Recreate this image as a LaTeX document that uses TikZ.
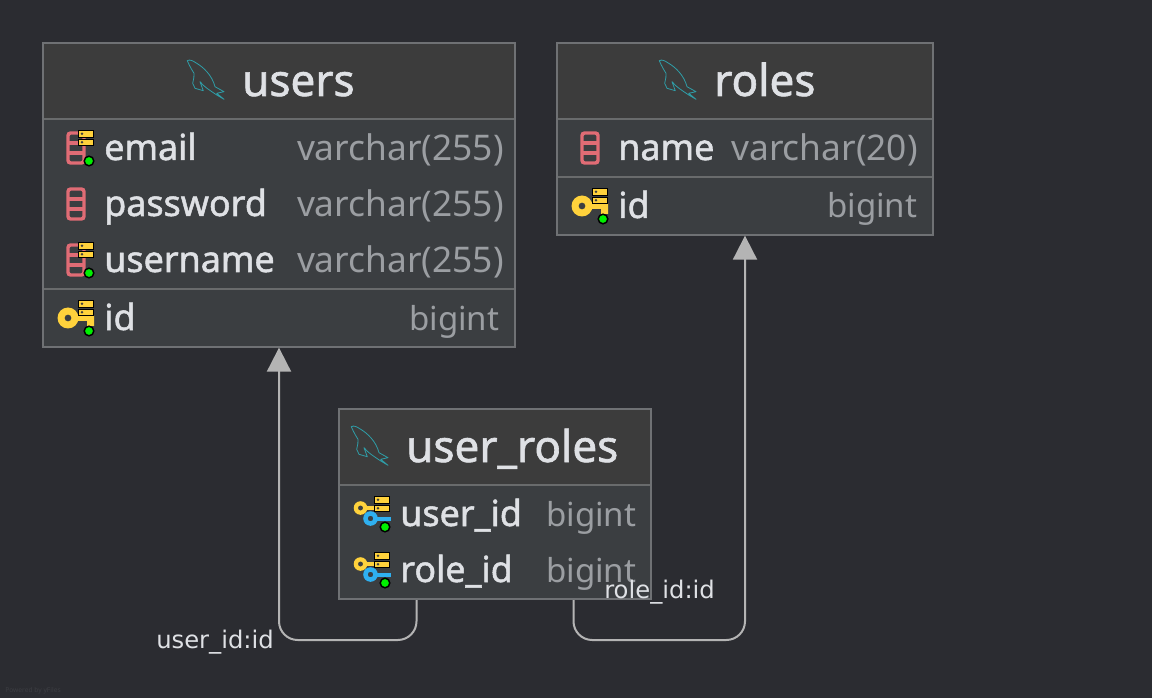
\documentclass[tikz,border=0pt]{standalone}
\usepackage{fontspec}
\setmainfont{Noto Sans}
\newfontfamily\namefont[FakeBold=1.4]{Noto Sans}
\newfontfamily\linkfont{DejaVu Sans}
\usetikzlibrary{arrows.meta,fit}

\definecolor{canvas}{HTML}{2B2C31}
\definecolor{headfill}{HTML}{3C3C3C}
\definecolor{bodyfill}{HTML}{3B3E41}
\definecolor{frame}{HTML}{6F7174}
\definecolor{sepline}{HTML}{696B6C}
\definecolor{textmain}{HTML}{DFE1E5}
\definecolor{texttype}{HTML}{9B9EA2}
\definecolor{linkline}{HTML}{B4B4B4}
\definecolor{colred}{HTML}{E06C75}
\definecolor{keyyellow}{HTML}{FFD23C}
\definecolor{keyblue}{HTML}{2FB0F0}
\definecolor{dotgreen}{HTML}{00F000}
\definecolor{dolphin}{HTML}{2F9EA8}

\tikzset{
    tablebox/.style={draw=frame,line width=1pt,fill=bodyfill,inner sep=0pt},
    headbox/.style={fill=headfill,inner sep=0pt},
    title/.style={anchor=base west,text=textmain,inner sep=0pt,font=\namefont\fontsize{33}{33}\selectfont},
    colname/.style={anchor=base west,text=textmain,inner sep=0pt,font=\namefont\fontsize{26.9}{26.9}\selectfont},
    coltype/.style={anchor=base east,text=texttype,inner sep=0pt,font=\fontsize{26.5}{26.5}\selectfont},
    biginttype/.style={coltype,font=\fontsize{24.8}{24.8}\selectfont},
    linklabel/.style={anchor=base west,text=textmain,inner sep=0pt,font=\linkfont\fontsize{18.2}{18.2}\selectfont},
    sep/.style={draw=sepline,line width=1.5pt},
    link/.style={draw=linkline,line width=1.5pt,rounded corners=14pt,-{Triangle[length=18pt,width=18pt,fill=linkline]}},
    dolphinicon/.pic={
        \draw[dolphin,line width=.6pt,line join=round]
            (0.3,0.7) .. controls (3,-1) and (6,1) .. (9.7,3.3)
            .. controls (16,7) and (25,15) .. (28,26.7)
            -- (37,31.7) -- (29.7,33.3) -- (37,39.3) -- (29,34.5)
            .. controls (24,31) and (17,27) .. (13,21.7)
            -- (16.3,30.7) -- (8,28.3) -- (5.7,23.3)
            .. controls (6.5,19) and (7.5,16) .. (7,13.3)
            .. controls (5,10) and (3,7) .. (0.3,0.7) -- cycle;
    },
    servericon/.pic={
        \draw[black,fill=keyyellow,line width=.7pt] (2.5,-17.5) rectangle (17.5,-11);
        \draw[black,fill=keyyellow,line width=.7pt] (2.5,-9) rectangle (17.5,-2.5);
        \fill[black!75] (6,-14.2) circle (1.4) (6,-5.8) circle (1.4);
    },
    greendot/.pic={
        \draw[black,fill=dotgreen,line width=1.1pt] (13,13) circle (4.8);
    },
    columnicon/.pic={
        \draw[colred,line width=2.6pt,rounded corners=2pt] (-8,-15) rectangle (8,15);
        \draw[colred,line width=2.6pt] (-8,-5) -- (8,-5) (-8,5) -- (8,5);
    },
    keyicon/.pic={
        \fill[keyyellow,even odd rule] (-8,0) circle (10.5) (-8,0) circle (3.5);
        \fill[keyyellow] (0,-2.5) rectangle (18,3) (11,0) rectangle (18,8);
    },
    fkicon/.pic={
        \fill[keyyellow,even odd rule] (-11.5,-6) circle (6.8) (-11.5,-6) circle (2.6);
        \fill[keyyellow] (-6,-8) rectangle (3,-4.5);
        \fill[keyblue,even odd rule] (-1.5,4.5) circle (7.3) (-1.5,4.5) circle (2.8);
        \fill[keyblue] (4,2.5) rectangle (18.5,6.5);
    },
}

\begin{document}
\begin{tikzpicture}[x=0.75pt,y=-0.75pt]
    \fill[canvas] (0,0) rectangle (1152,698);
    \useasboundingbox (0,0) rectangle (1152,698);

    % users
    \node(usersbox)[tablebox,fit={(43,43) (515,347)}] {};
    \node(usershead)[headbox,fit={(44,44) (514,118)}] {};
    \draw[sep] (44,119)--(514,119);
    \draw[sep] (44,289)--(514,289);
    \pic at (187,60) {dolphinicon};
    \node(userstitle)[title] at (242,96) {users};
    \pic at (76,148) {columnicon};
    \pic at (76,148) {servericon};
    \pic at (76,148) {greendot};
    \node(usersemail)[colname] at (104,160) {email};
    \node(usersemailt)[coltype] at (504,160.5) {varchar(255)};
    \pic at (76,204) {columnicon};
    \node(userspass)[colname] at (104,216) {password};
    \node(userspasst)[coltype] at (504,216.5) {varchar(255)};
    \pic at (76,260) {columnicon};
    \pic at (76,260) {servericon};
    \pic at (76,260) {greendot};
    \node(usersname)[colname] at (104,272) {username};
    \node(usersnamet)[coltype] at (504,272.5) {varchar(255)};
    \pic at (76,318) {keyicon};
    \pic at (76,318) {servericon};
    \pic at (76,318) {greendot};
    \node(usersid)[colname] at (104,330) {id};
    \node(usersidt)[biginttype] at (499.5,330) {bigint};

    % roles
    \node(rolesbox)[tablebox,fit={(557,43) (933,235)}] {};
    \node(roleshead)[headbox,fit={(558,44) (932,118)}] {};
    \draw[sep] (558,119)--(932,119);
    \draw[sep] (558,177)--(932,177);
    \pic at (659,60) {dolphinicon};
    \node(rolestitle)[title] at (714,96) {roles};
    \pic at (590,148) {columnicon};
    \node(rolesname)[colname] at (618,160) {name};
    \node(rolesnamet)[coltype] at (918,160.5) {varchar(20)};
    \pic at (590,206) {keyicon};
    \pic at (590,206) {servericon};
    \pic at (590,206) {greendot};
    \node(rolesid)[colname] at (618,218) {id};
    \node(rolesidt)[biginttype] at (917.5,218) {bigint};

    % user_roles
    \node(urbox)[tablebox,fit={(339,409) (651,599)}] {};
    \node(urhead)[headbox,fit={(340,410) (650,484)}] {};
    \draw[sep] (340,485)--(650,485);
    \pic at (351,426) {dolphinicon};
    \node(urtitle)[title] at (406,462) {user\_roles};
    \pic at (372,514) {fkicon};
    \pic at (372,514) {servericon};
    \pic at (372,514) {greendot};
    \node(uruser)[colname] at (400,526) {user\_id};
    \node(urusert)[biginttype] at (636.5,526) {bigint};
    \pic at (372,570) {fkicon};
    \pic at (372,570) {servericon};
    \pic at (372,570) {greendot};
    \node(urrole)[colname] at (400,582) {role\_id};
    \node(urrolet)[biginttype] at (636.5,582) {bigint};

    % links
    \coordinate(userfrom) at (416.5,600);
    \coordinate(rolefrom) at (573.5,600);
    \draw[link] (userfrom)--(416.5,640)--(usersbox.south |- 0,640)--(usersbox.south);
    \draw[link] (rolefrom)--(573.5,640)--(rolesbox.south |- 0,640)--(rolesbox.south);
    \node(userlink)[linklabel] at (156,648) {user\_id:id};
    \node(rolelink)[linklabel] at (604,598) {role\_id:id};

    \node(powered)[anchor=base west,inner sep=0pt,text=white!8!canvas,font=\fontsize{5}{5}\selectfont] at (5,692) {Powered by yFiles};
\end{tikzpicture}
\end{document}
